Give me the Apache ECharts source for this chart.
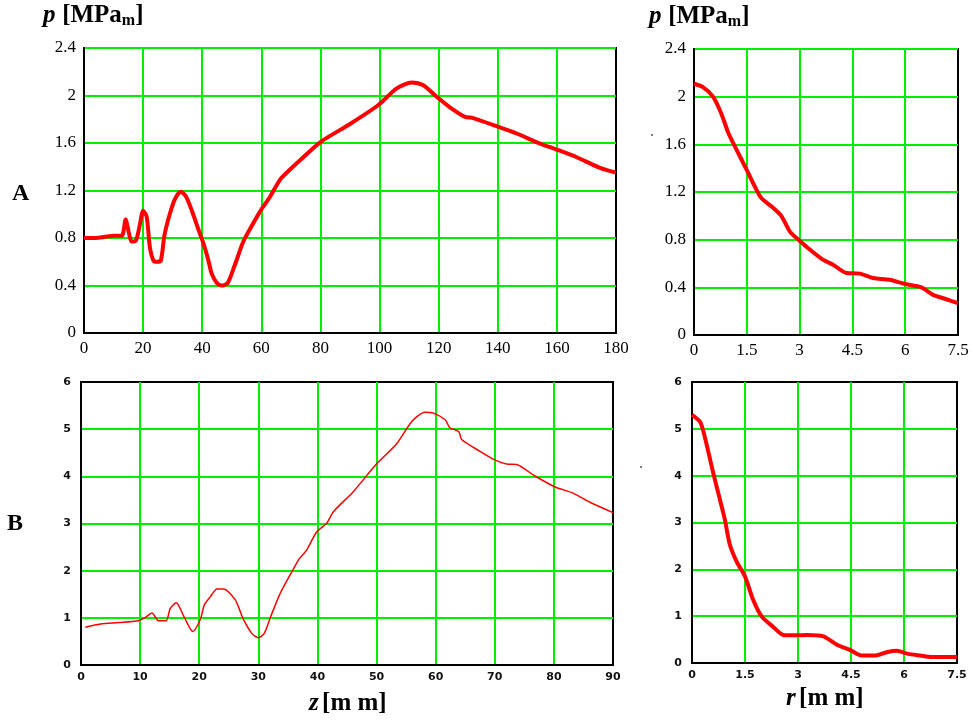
<!DOCTYPE html>
<html>
<head>
<meta charset="utf-8">
<title>p(z), p(r)</title>
<script src="https://cdn.jsdelivr.net/npm/echarts@6/dist/echarts.min.js"></script>
<style>
  html, body { margin: 0; padding: 0; background: #fff; }
  #chart { width: 973px; height: 724px; }
</style>
</head>
<body>
<div id="chart"></div>
<script>
// Case A: axial profile p(z) and radial profile p(r)
const zA = [0, 4, 7, 10, 12.8, 14.1, 15.2, 16.1, 17.6, 18.8, 20, 21.2, 22.3, 23.5, 24.6, 26, 27.2, 29, 30.8, 32.7, 34.5, 36.5, 38.6, 40.4, 42, 43.2, 45, 46.6, 48.6, 51, 53.9, 56.5, 59.5, 63, 66.3, 69, 73.1, 80.1, 90, 99.6, 105.8, 110.9, 114.8, 119.3, 123.8, 128.9, 131.7, 140.3, 146.4, 154.3, 159.9, 166.7, 174.6, 180];
const pA = [0.8, 0.8, 0.81, 0.82, 0.82, 0.956, 0.84, 0.77, 0.78, 0.9, 1.03, 0.98, 0.72, 0.61, 0.60, 0.61, 0.82, 1.0, 1.13, 1.19, 1.15, 1.03, 0.88, 0.755, 0.62, 0.50, 0.42, 0.40, 0.42, 0.57, 0.77, 0.89, 1.02, 1.15, 1.29, 1.36, 1.455, 1.61, 1.76, 1.92, 2.06, 2.11, 2.086, 1.99, 1.90, 1.82, 1.81, 1.735, 1.68, 1.595, 1.545, 1.48, 1.39, 1.35];
const rA = [0, 0.255, 0.54, 0.78, 0.97, 1.2, 1.49, 1.72, 1.91, 2.24, 2.48, 2.72, 2.97, 3.29, 3.66, 3.95, 4.33, 4.71, 5.09, 5.56, 5.97, 6.46, 6.79, 7.17, 7.5];
const prA = [2.108, 2.08, 2.0, 1.855, 1.70, 1.56, 1.39, 1.25, 1.15, 1.07, 1.0, 0.87, 0.80, 0.717, 0.632, 0.59, 0.52, 0.515, 0.478, 0.464, 0.43, 0.40, 0.337, 0.30, 0.267];

// Case B: axial profile p(z) and radial profile p(r)
const zB = [0.73, 3.3, 6.4, 9.7, 10.9, 12.0, 13.1, 14.4, 15.1, 16.1, 17.4, 18.9, 20.2, 20.85, 21.9, 23.0, 24.1, 26.1, 27.4, 28.9, 30.0, 31.0, 32.1, 33.7, 36.0, 36.8, 38.2, 39.8, 41.6, 42.7, 46.1, 49.9, 53.4, 56.0, 58.2, 59.6, 61.6, 62.4, 63.9, 64.4, 67.5, 70.0, 72.0, 73.7, 76.5, 80.1, 83.3, 86.1, 90];
const pB = [0.80, 0.87, 0.90, 0.94, 1.01, 1.10, 0.94, 0.94, 1.20, 1.32, 1.03, 0.71, 0.97, 1.27, 1.45, 1.61, 1.61, 1.38, 0.99, 0.67, 0.58, 0.67, 1.03, 1.52, 2.05, 2.23, 2.44, 2.81, 3.01, 3.25, 3.68, 4.25, 4.69, 5.17, 5.36, 5.34, 5.2, 5.03, 4.95, 4.78, 4.53, 4.35, 4.26, 4.25, 4.03, 3.78, 3.64, 3.45, 3.23];
const rB = [0, 0.22, 0.31, 0.45, 0.6, 0.79, 0.93, 1.07, 1.26, 1.5, 1.73, 1.97, 2.3, 2.58, 2.96, 3.25, 3.72, 4.1, 4.47, 4.8, 5.18, 5.51, 5.8, 6.08, 6.46, 6.79, 7.5];
const prB = [5.30, 5.16, 4.98, 4.55, 4.06, 3.49, 3.06, 2.53, 2.17, 1.85, 1.35, 0.995, 0.77, 0.60, 0.59, 0.60, 0.57, 0.39, 0.28, 0.16, 0.16, 0.23, 0.26, 0.20, 0.16, 0.13, 0.13];

const pair = (xs, ys) => xs.map((x, i) => [x, ys[i]]);

const GREEN = '#00ee00';
const RED = '#ff0000';
const SERIF = '"Liberation Serif", "Times New Roman", serif';

const grids = [
  { left: 84, top: 48, width: 532, height: 285 },
  { left: 694, top: 49, width: 264, height: 286 },
  { left: 81, top: 382, width: 532, height: 283 },
  { left: 692, top: 382, width: 265, height: 281 }
].map(g => Object.assign(g, { show: true, borderColor: '#000', borderWidth: 2, backgroundColor: 'transparent' }));

const topLabel = { color: '#000', fontFamily: SERIF, fontSize: 17 };
const bottomLabel = { color: '#111', fontFamily: '"DejaVu Sans", sans-serif', fontSize: 11, fontWeight: 'bold' };

function xAxis(gridIndex, max, interval, label) {
  return {
    type: 'value', gridIndex, min: 0, max, interval,
    axisLine: { show: true, onZero: false, lineStyle: { color: '#000', width: 2 } },
    axisTick: { show: false },
    axisLabel: Object.assign({ margin: 7 }, label),
    splitLine: { show: true, showMinLine: false, showMaxLine: false, lineStyle: { color: GREEN, width: 2 } }
  };
}
function yAxis(gridIndex, max, interval, label, greenTop, margin) {
  return {
    type: 'value', gridIndex, min: 0, max, interval,
    axisLine: { show: true, onZero: false, lineStyle: { color: '#000', width: 2 } },
    axisTick: { show: false },
    axisLabel: Object.assign({ margin }, label),
    splitLine: { show: true, showMinLine: false, showMaxLine: greenTop, lineStyle: { color: GREEN, width: 2 } }
  };
}

function line(idx, data, width) {
  return {
    type: 'line', xAxisIndex: idx, yAxisIndex: idx, data,
    showSymbol: false, smooth: 0.25, clip: true,
    lineStyle: { color: RED, width },
    silent: true, z: 5
  };
}

const titleRich = {
  i: { fontFamily: SERIF, fontSize: 25, fontWeight: 'bold', fontStyle: 'italic', color: '#000' },
  b: { fontFamily: SERIF, fontSize: 25, fontWeight: 'bold', color: '#000' },
  s: { fontFamily: SERIF, fontSize: 16, fontWeight: 'bold', color: '#000', padding: [11, 0, 0, 0] },
  L: { fontFamily: SERIF, fontSize: 24, fontWeight: 'bold', color: '#000' }
};
function textEl(x, y, text) {
  return { type: 'text', left: x, top: y, style: { text, rich: titleRich } };
}

const chart = echarts.init(document.getElementById('chart'), null, { renderer: 'canvas' });
chart.setOption({
  animation: false,
  backgroundColor: '#fff',
  grid: grids,
  xAxis: [
    xAxis(0, 180, 20, topLabel),
    xAxis(1, 7.5, 1.5, topLabel),
    xAxis(2, 90, 10, bottomLabel),
    xAxis(3, 7.5, 1.5, bottomLabel)
  ],
  yAxis: [
    yAxis(0, 2.4, 0.4, topLabel, true, 8),
    yAxis(1, 2.4, 0.4, topLabel, true, 8),
    yAxis(2, 6, 1, bottomLabel, false, 10),
    yAxis(3, 6, 1, bottomLabel, false, 10)
  ],
  series: [
    line(0, pair(zA, pA), 4),
    line(1, pair(rA, prA), 4),
    line(2, pair(zB, pB), 1.5),
    line(3, pair(rB, prB), 4)
  ],
  graphic: [
    textEl(43, 3, '{i|p}  {b|[MPa}{s|m}{b|]}'),
    textEl(649, 4, '{i|p}  {b|[MPa}{s|m}{b|]}'),
    textEl(12, 182, '{L|A}'),
    textEl(7, 512, '{L|B}'),
    textEl(309, 691, '{i|z} {b|[m m]}'),
    textEl(786, 686, '{i|r} {b|[m m]}'),
    { type: 'circle', shape: { cx: 652, cy: 135, r: 1 }, style: { fill: '#555' } },
    { type: 'circle', shape: { cx: 641, cy: 467, r: 1 }, style: { fill: '#555' } }
  ]
});
</script>
</body>
</html>
